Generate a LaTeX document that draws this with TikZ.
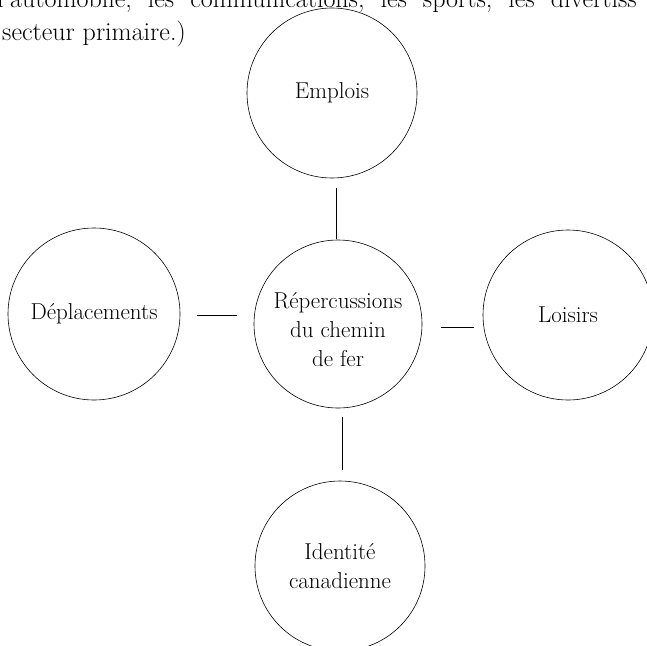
\documentclass[tikz,border=0pt]{standalone}
\usepackage{tikz}
\usetikzlibrary{positioning}
\tikzset{
    % Theme circle
    theme/.style={circle, draw=black, line width=0.6pt, minimum size=170pt,
        inner sep=0pt, align=center, font=\fontsize{23}{29}\selectfont},
    % Connection line (kept off the circles)
    mapline/.style={line width=0.6pt, black},
    % Running text of the page
    pagetext/.style={anchor=base west, inner sep=0pt,
        font=\fontsize{26}{33}\selectfont},
}

\begin{document}
\begin{tikzpicture}[x=1pt, y=-1pt]
    \useasboundingbox (0,0) rectangle (647,645);
    \clip (0,0) rectangle (647,645);
    \node[pagetext] (line1) at (-3,7) {\spaceskip=16pt l'automobile, les communications, les sports, les divertiss};
    \node[pagetext] (line2) at (2,40) {secteur primaire.)};
    \node[theme] (emplois) at (332,93) {Emplois};
    \node[theme, minimum size=168pt] (chemin) at (338,324) {\rule{0pt}{28pt}Répercussions\\du chemin\\de fer};
    \node[theme, minimum size=172pt] (deplacements) at (94,314) {Déplacements};
    \node[theme] (loisirs) at (568,315) {Loisirs};
    \node[theme] (identite) at (340,566) {Identité\\canadienne};
    \draw[mapline, shorten <=10pt, shorten >=1pt] ([xshift=4pt]emplois.south) -- ([xshift=-2pt]chemin.north);
    \draw[mapline, shorten <=9pt, shorten >=11pt] ([xshift=4pt]chemin.south) -- ([xshift=2pt]identite.north);
    \draw[mapline, shorten <=17pt, shorten >=17pt] ([yshift=-1pt]deplacements.east) -- ([yshift=9pt]chemin.west);
    \draw[mapline, shorten <=19pt, shorten >=9pt] ([yshift=-3pt]chemin.east) -- ([yshift=-12pt]loisirs.west);
\end{tikzpicture}
\end{document}
